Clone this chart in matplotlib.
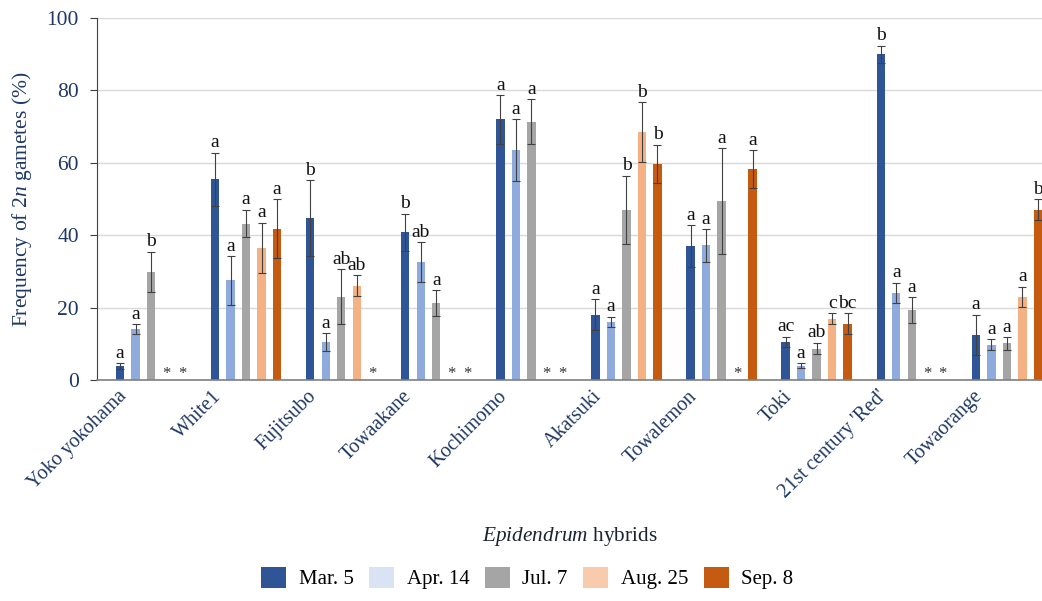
import matplotlib.pyplot as plt
import numpy as np
from matplotlib.patches import Patch
from matplotlib.transforms import ScaledTranslation

plt.rcParams['font.family'] = 'Liberation Serif'
plt.rcParams['mathtext.fontset'] = 'custom'
plt.rcParams['mathtext.rm'] = 'Liberation Serif'
plt.rcParams['mathtext.it'] = 'Liberation Serif:italic'

nan = np.nan

hybrids = ["Yoko yokohama", "White1", "Fujitsubo", "Towaakane", "Kochimomo",
           "Akatsuki", "Towalemon", "Toki", "21st century 'Red'", "Towaorange"]
dates = ["Mar. 5", "Apr. 14", "Jul. 7", "Aug. 25", "Sep. 8"]

# mean frequency (%) and standard error per sampling date
mar = [3.9, 55.4, 44.7, 40.8, 72.0, 18.0, 37.0, 10.6, 90.0, 12.5]
mar_se = [0.8, 7.4, 10.5, 5.2, 6.7, 4.3, 5.8, 1.4, 2.3, 5.5]
apr = [14.0, 27.5, 10.4, 32.6, 63.5, 16.1, 37.2, 3.9, 24.1, 9.7]
apr_se = [1.4, 6.7, 2.5, 5.4, 8.5, 1.4, 4.5, 0.7, 2.8, 1.5]
jul = [29.8, 43.2, 23.0, 21.2, 71.4, 47.0, 49.4, 8.7, 19.3, 10.1]
jul_se = [5.6, 3.8, 7.6, 3.6, 6.1, 9.4, 14.6, 1.6, 3.5, 1.7]
aug = [nan, 36.6, 26.1, nan, nan, 68.5, nan, 16.9, nan, 23.0]
aug_se = [nan, 6.9, 2.8, nan, nan, 8.3, nan, 1.5, nan, 2.8]
sep = [nan, 41.8, nan, nan, nan, 59.7, 58.3, 15.6, nan, 47.0]
sep_se = [nan, 8.1, nan, nan, nan, 5.3, 5.2, 2.8, nan, 2.9]

# significance letters ("*" = no data)
mar_lab = ["a", "a", "b", "b", "a", "a", "a", "ac", "b", "a"]
apr_lab = ["a", "a", "a", "ab", "a", "a", "a", "a", "a", "a"]
jul_lab = ["b", "a", "ab", "a", "a", "b", "a", "ab", "a", "a"]
aug_lab = ["*", "a", "ab", "*", "*", "b", "*", "c", "*", "a"]
sep_lab = ["*", "a", "*", "*", "*", "b", "a", "bc", "*", "b"]

series = [(mar, mar_se, mar_lab), (apr, apr_se, apr_lab), (jul, jul_se, jul_lab),
          (aug, aug_se, aug_lab), (sep, sep_se, sep_lab)]
bar_colors = ['#2f5597', '#8faadc', '#a5a5a5', '#f4b183', '#c55a11']
legend_colors = ['#2f5597', '#dae3f3', '#a5a5a5', '#f8cbad', '#c55a11']
navy = '#1f3864'

fig = plt.figure(figsize=(10.42, 6.01), dpi=100)
ax = fig.add_axes([0.0931, 0.3677, 0.9069, 0.6023])

x = np.arange(len(hybrids))
step = 0.163
width = 0.088

for k, (vals, se, labs) in enumerate(series):
    vals = np.array(vals, dtype=float)
    se = np.array(se, dtype=float)
    pos = x + (k - 2) * step
    ax.bar(pos, np.nan_to_num(vals), width, color=bar_colors[k], zorder=2)
    ok = ~np.isnan(vals)
    ax.errorbar(pos[ok], vals[ok], yerr=se[ok], fmt='none', ecolor='#404040',
                elinewidth=0.8, capsize=3, capthick=0.8, zorder=3)
    for p, v, s, lab in zip(pos, vals, se, labs):
        if lab == "*":
            ax.text(p, -0.6, "*", ha='center', va='bottom', fontsize=12, color='#333333')
        else:
            ax.text(p, v + s + 0.4, lab, ha='center', va='bottom', fontsize=14,
                    color='#111111')

ax.set_xlim(-0.568, 9.37)
ax.set_ylim(0, 100)
ax.set_yticks(np.arange(0, 101, 20))
ax.yaxis.grid(True, color='#d9d9d9', linewidth=1)
ax.set_axisbelow(True)
for side in ['top', 'right']:
    ax.spines[side].set_visible(False)
ax.spines['left'].set_color('#404040')
ax.spines['bottom'].set_color('#808080')
ax.spines['bottom'].set_linewidth(1.2)
ax.tick_params(axis='y', direction='out', length=5, color='#404040',
               labelsize=15.5, labelcolor=navy, pad=8)
ax.tick_params(axis='x', length=0, labelsize=14.5, labelcolor=navy, pad=5)

ax.set_xticks(x)
ax.set_xticklabels(hybrids, rotation=45, ha='right', rotation_mode='anchor')
shift = ScaledTranslation(-34 / 100, 0, fig.dpi_scale_trans)
for lbl in ax.get_xticklabels():
    lbl.set_transform(lbl.get_transform() + shift)

ax.set_ylabel("Frequency of 2$\\it{n}$ gametes (%)", fontsize=15.5, color=navy)
ax.yaxis.set_label_coords(-0.067, 0.5)
fig.text(0.547, 1 - 536 / 601, "$\\it{Epidendrum}$ hybrids", ha='center', va='center',
         fontsize=15.3, color='#1a2233')

handles = [Patch(facecolor=c, edgecolor='none') for c in legend_colors]
fig.legend(handles, dates, loc='center', bbox_to_anchor=(0.506, 1 - 578 / 601), ncol=5,
           frameon=False, fontsize=15, handlelength=1.2, handleheight=1.2,
           handletextpad=0.6, columnspacing=0.75)

fig.savefig('out.png', dpi=100)
